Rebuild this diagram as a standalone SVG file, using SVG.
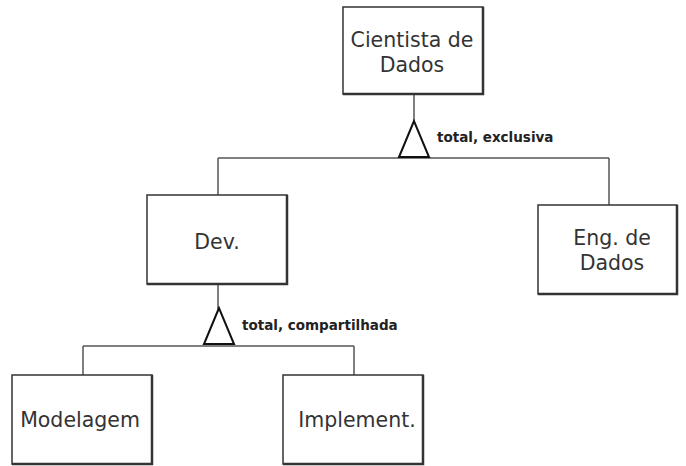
<svg xmlns="http://www.w3.org/2000/svg" width="686" height="466" viewBox="0 0 686 466">
<style>
.box{fill:#fff;stroke:#333;stroke-width:1.5}
.sh{fill:none;stroke:#333;stroke-width:2.5}
.t{font-family:"DejaVu Sans","Noto Sans",sans-serif;font-size:20.5px;fill:#333;text-anchor:middle}
.lbl{font-family:"DejaVu Sans","Open Sans",sans-serif;font-size:13.5px;font-weight:bold;fill:#222}
.ln{fill:none;stroke:#555;stroke-width:1.5}
.tri{fill:#fff;stroke:#111;stroke-width:2;stroke-linejoin:miter}
</style>
<rect width="686" height="466" fill="#fff"/>
<g id="connectors">
<line class="ln" x1="414" y1="94" x2="414" y2="122"/>
<line class="ln" x1="218" y1="158" x2="609" y2="158"/>
<line class="ln" x1="218" y1="158" x2="218" y2="195"/>
<line class="ln" x1="609" y1="158" x2="609" y2="205"/>
<polygon class="tri" points="414,121 399,157 429,157"/>
<text class="lbl" x="437" y="142">total, exclusiva</text>
<line class="ln" x1="218" y1="284" x2="218" y2="309"/>
<line class="ln" x1="83" y1="346" x2="354" y2="346"/>
<line class="ln" x1="83" y1="346" x2="83" y2="375"/>
<line class="ln" x1="354" y1="346" x2="354" y2="375"/>
<polygon class="tri" points="219,308 204,344 234,344"/>
<text class="lbl" x="242" y="330">total, compartilhada</text>
</g>
<g id="cientista">
<rect class="box" x="343" y="7" width="140" height="87"/>
<polyline class="sh" points="343,94 483,94 483,7"/>
<text class="t" x="412" y="47">Cientista de</text>
<text class="t" x="412" y="72">Dados</text>
</g>
<g id="dev">
<rect class="box" x="147" y="195" width="140" height="89"/>
<polyline class="sh" points="147,284 287,284 287,195"/>
<text class="t" x="217" y="249">Dev.</text>
</g>
<g id="eng">
<rect class="box" x="538" y="205" width="139" height="89"/>
<polyline class="sh" points="538,294 677,294 677,205"/>
<text class="t" x="612" y="245">Eng. de</text>
<text class="t" x="612" y="270">Dados</text>
</g>
<g id="modelagem">
<rect class="box" x="12" y="375" width="140" height="89"/>
<polyline class="sh" points="12,464 152,464 152,375"/>
<text class="t" x="80" y="427">Modelagem</text>
</g>
<g id="implement">
<rect class="box" x="283" y="375" width="140" height="89"/>
<polyline class="sh" points="283,464 423,464 423,375"/>
<text class="t" x="357" y="427">Implement.</text>
</g>
</svg>
